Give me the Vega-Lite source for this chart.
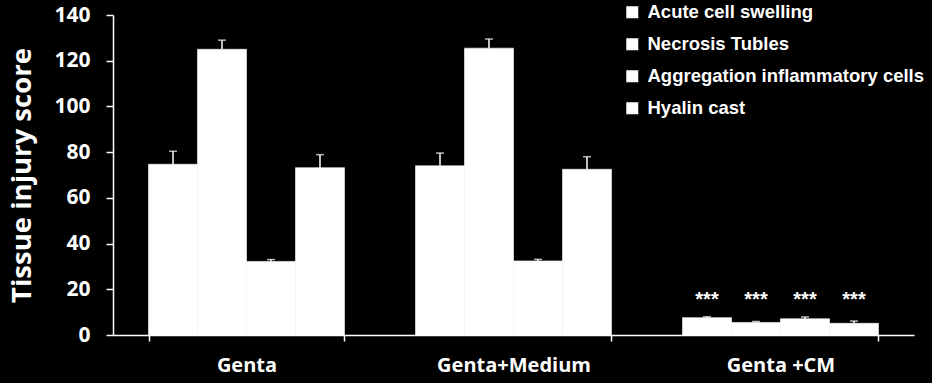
{
  "$schema": "https://vega.github.io/schema/vega-lite/v6.json",
  "autosize": "none",
  "width": 801,
  "height": 320,
  "padding": {"left": 113, "top": 15, "right": 18, "bottom": 48},
  "background": "#000000",
  "config": {
    "view": {"stroke": null},
    "font": "Liberation Sans"
  },
  "data": {
    "values": [
      {"group": "Genta", "category": "Acute cell swelling", "value": 74.7, "hi": 80.4, "star": ""},
      {"group": "Genta", "category": "Necrosis Tubles", "value": 125.0, "hi": 129.0, "star": ""},
      {"group": "Genta", "category": "Aggregation inflammatory cells", "value": 32.2, "hi": 33.0, "star": ""},
      {"group": "Genta", "category": "Hyalin cast", "value": 73.2, "hi": 78.9, "star": ""},
      {"group": "Genta+Medium", "category": "Acute cell swelling", "value": 74.0, "hi": 79.6, "star": ""},
      {"group": "Genta+Medium", "category": "Necrosis Tubles", "value": 125.5, "hi": 129.5, "star": ""},
      {"group": "Genta+Medium", "category": "Aggregation inflammatory cells", "value": 32.4, "hi": 33.1, "star": ""},
      {"group": "Genta+Medium", "category": "Hyalin cast", "value": 72.5, "hi": 78.0, "star": ""},
      {"group": "Genta +CM", "category": "Acute cell swelling", "value": 7.6, "hi": 8.0, "star": "***"},
      {"group": "Genta +CM", "category": "Necrosis Tubles", "value": 5.5, "hi": 5.9, "star": "***"},
      {"group": "Genta +CM", "category": "Aggregation inflammatory cells", "value": 7.1, "hi": 7.9, "star": "***"},
      {"group": "Genta +CM", "category": "Hyalin cast", "value": 5.1, "hi": 6.1, "star": "***"}
    ]
  },
  "encoding": {
    "x": {
      "field": "group", "type": "nominal", "sort": ["Genta", "Genta+Medium", "Genta +CM"],
      "scale": {"paddingInner": 0.266, "paddingOuter": 0.133},
      "axis": {
        "title": null, "labelAngle": 0, "labelColor": "#ffffff", "labelFont": "Open Sans",
        "labelFontWeight": "bold", "labelFontSize": 20, "labelPadding": 14,
        "domainColor": "#ffffff", "domainWidth": 1.5, "tickColor": "#ffffff", "tickWidth": 1.5,
        "tickSize": 6, "tickBand": "extent"
      }
    },
    "xOffset": {"field": "category", "type": "nominal", "sort": ["Acute cell swelling", "Necrosis Tubles", "Aggregation inflammatory cells", "Hyalin cast"], "scale": {"paddingInner": 0, "paddingOuter": 0}}
  },
  "layer": [
    {
      "mark": {"type": "bar", "color": "#ffffff", "stroke": "#ffffff", "strokeWidth": 0.6},
      "encoding": {
        "y": {
          "field": "value", "type": "quantitative",
          "scale": {"domain": [0, 140], "nice": false},
          "axis": {
            "values": [0, 20, 40, 60, 80, 100, 120, 140], "grid": false,
            "title": "Tissue injury score", "titleColor": "#ffffff", "titleFont": "Open Sans",
            "titleFontWeight": "bold", "titleFontSize": 27.5, "titlePadding": 17,
            "labelColor": "#ffffff", "labelFont": "Open Sans", "labelFontWeight": "bold", "labelFontSize": 21,
            "labelPadding": 16, "tickSize": 7, "tickColor": "#ffffff", "tickWidth": 1.5,
            "domainColor": "#ffffff", "domainWidth": 1.5
          }
        },
        "color": {
          "field": "category", "type": "nominal",
          "sort": ["Acute cell swelling", "Necrosis Tubles", "Aggregation inflammatory cells", "Hyalin cast"],
          "scale": {"range": ["#ffffff", "#ffffff", "#ffffff", "#ffffff"]},
          "legend": {
            "title": null, "orient": "none", "legendX": 510, "legendY": -12,
            "symbolType": "square", "symbolSize": 110, "symbolFillColor": "#ffffff", "symbolStrokeColor": "#ffffff",
            "labelColor": "#ffffff", "labelFont": "Liberation Sans", "labelFontWeight": "bold", "labelFontSize": 18.5,
            "labelLimit": 400, "rowPadding": 13, "labelOffset": 6
          }
        }
      }
    },
    {
      "mark": {"type": "rule", "color": "#ffffff", "strokeWidth": 1.5},
      "encoding": {"y": {"field": "value", "type": "quantitative"}, "y2": {"field": "hi"}}
    },
    {
      "mark": {"type": "tick", "orient": "horizontal", "color": "#ffffff", "size": 8, "thickness": 1.5},
      "encoding": {"y": {"field": "hi", "type": "quantitative"}}
    },
    {
      "mark": {"type": "text", "color": "#ffffff", "font": "Liberation Sans", "fontWeight": "bold", "fontSize": 20, "baseline": "middle", "dy": 3},
      "encoding": {"y": {"datum": 16.6, "type": "quantitative"}, "text": {"field": "star"}}
    }
  ]
}
